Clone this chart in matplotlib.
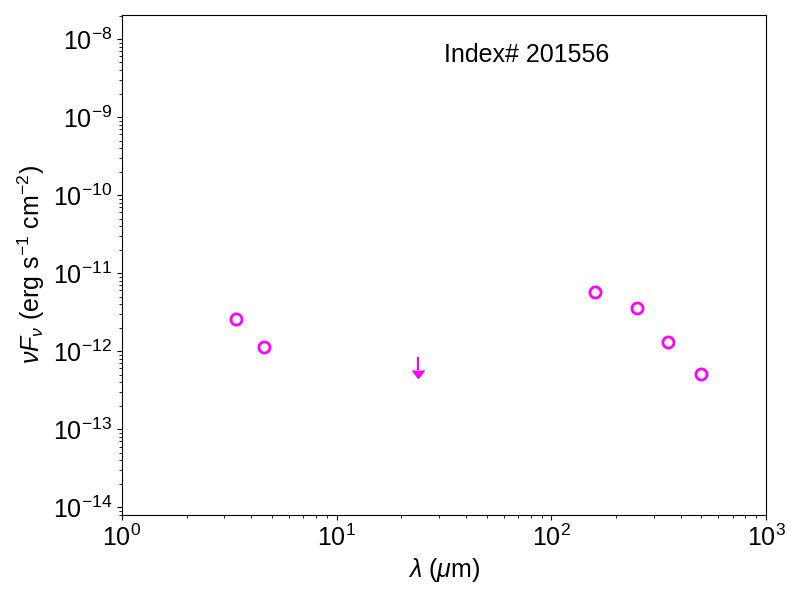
import matplotlib
matplotlib.use('Agg')
import matplotlib.pyplot as plt
from matplotlib.markers import CARETDOWNBASE
import numpy as np

plt.rcParams['font.family'] = ['Liberation Sans', 'DejaVu Sans']
plt.rcParams['mathtext.fontset'] = 'custom'
plt.rcParams['mathtext.rm'] = 'Liberation Sans'
plt.rcParams['mathtext.it'] = 'Liberation Sans:italic'
plt.rcParams['mathtext.bf'] = 'Liberation Sans:bold'

# detections
wave = [3.4, 4.6, 160, 250, 350, 500]
flux = [2.61e-12, 1.12e-12, 5.78e-12, 3.55e-12, 1.31e-12, 5.06e-13]

# upper limit (top of arrow and where the arrow head starts)
wave_lim = [24]
flux_lim = [8.36e-13]
flux_lim_low = [5.76e-13]

fig = plt.figure(figsize=(8, 6), dpi=100)
ax = fig.add_axes([0.1525, 0.142, 0.805, 0.833])

ax.plot(wave, flux, 'o', color='magenta', mfc='none', ms=8, mew=2)
ax.vlines(wave_lim, flux_lim_low, flux_lim, color='magenta', lw=1.5)
ax.plot(wave_lim, flux_lim_low, ls='none', marker=CARETDOWNBASE,
        color='magenta', ms=8)

ax.set_xscale('log')
ax.set_yscale('log')
ax.set_xlim(1, 1000)
ax.set_ylim(8e-15, 2.03e-8)

ax.set_xlabel(r'$\lambda$ ($\mu$m)', fontsize=18)
ax.set_ylabel(r'$\nu F_\nu$ (erg s$^{-1}$ cm$^{-2}$)', fontsize=18)
ax.tick_params(axis='both', which='major', labelsize=18)

ax.text(0.629, 0.92, 'Index# 201556', transform=ax.transAxes,
        fontsize=18, ha='center', va='center')

fig.savefig('out.png', dpi=100)
